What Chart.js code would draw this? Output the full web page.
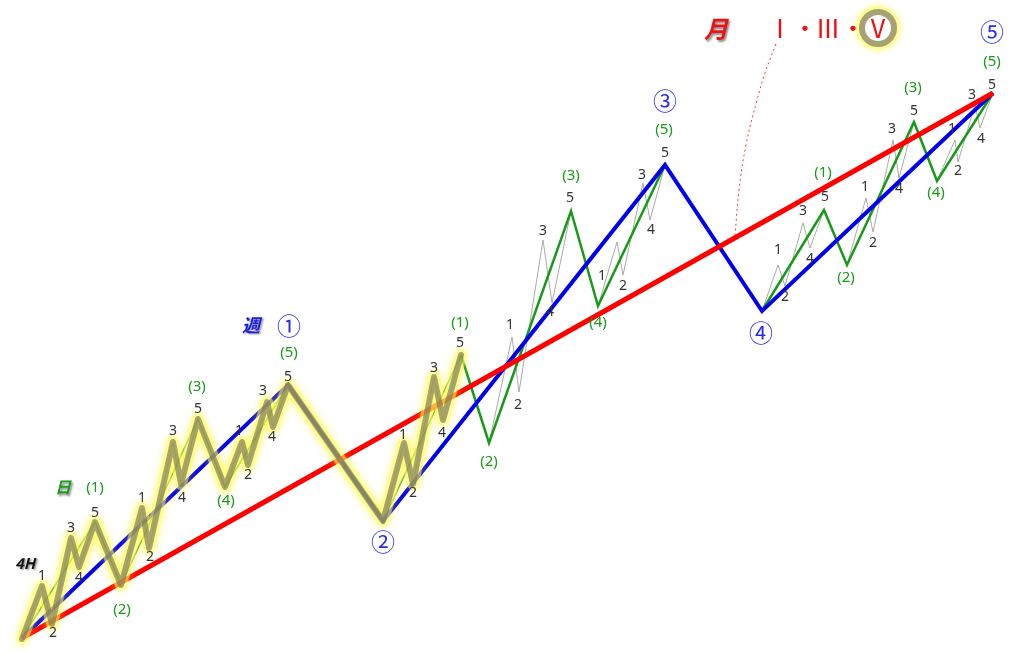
<!DOCTYPE html>
<html>
<head>
<meta charset="utf-8">
<script src="https://cdn.jsdelivr.net/npm/chart.js@4"></script>
<style>
  html, body { margin: 0; padding: 0; background: #fff; }
  #wave { display: block; }
</style>
</head>
<body>
<canvas id="wave" width="1024" height="652"></canvas>
<script>
// 波の頂点 [時間, 価格]  (価格軸は上下反転)
const monthWave = [[22, 638], [993, 93]];
const weekWave = [[22, 638], [288, 385], [383, 521], [665, 165], [762, 311], [993, 93]];
const dayWaveThin = [
  [22, 638], [95, 522], [121, 585], [198, 419], [225, 487], [288, 385], null,
  [383, 521], [461, 355]
];
const dayWaveThick = [
  [461, 355], [489, 443], [571, 211], [598, 306], [665, 165], null,
  [762, 311], [824, 210], [847, 265], [914, 122], [937, 181], [993, 93]
];
const h4Wave = [
  [22, 639], [42, 586], [52, 624], [71, 538], [79, 567], [95, 522],
  [121, 585], [142, 508], [149, 548], [173, 442], [181, 484], [198, 419],
  [225, 487], [242, 442], [248, 465], [267, 402], [273, 427], [288, 385],
  [383, 521], [404, 443], [413, 484], [434, 377], [443, 420], [461, 355],
  [489, 443], [512, 337], [519, 392], [543, 240], [552, 303], [571, 211],
  [598, 306], [617, 242], [623, 275], [643, 183], [650, 220], [665, 165],
  [762, 311], [778, 265], [785, 286], [803, 223], [810, 248], [824, 210],
  [847, 265], [866, 198], [873, 232], [893, 140], [899, 178], [914, 122],
  [937, 181], [955, 140], [958, 162], [975, 105], [980, 128], [993, 93]
];
const h4Highlight = h4Wave.slice(0, 24);
const monthLink = [[776, 44], [766, 70], [757, 100], [746, 145], [739, 190], [735, 236]];
const ringPoint = [[878, 28]];

// ラベル [文字, 時間, 価格]
const h4Labels = [
  ['1', 42, 576], ['2', 53, 633], ['3', 71, 528], ['4', 79, 578], ['5', 95, 513],
  ['1', 142, 498], ['2', 150, 557], ['3', 173, 431], ['4', 182, 498], ['5', 198, 409],
  ['1', 239, 431], ['2', 248, 475], ['3', 263, 391], ['4', 272, 437], ['5', 288, 377],
  ['1', 403, 435], ['2', 413, 493], ['3', 434, 368], ['4', 442, 433], ['5', 460, 343],
  ['1', 510, 325], ['2', 518, 405], ['3', 543, 231], ['4', 550, 312], ['5', 570, 198],
  ['1', 602, 276], ['2', 623, 286], ['3', 642, 175], ['4', 651, 230], ['5', 665, 153],
  ['1', 778, 250], ['2', 785, 297], ['3', 803, 211], ['4', 810, 259], ['5', 825, 197],
  ['1', 865, 187], ['2', 873, 243], ['3', 892, 129], ['4', 899, 189], ['5', 914, 111],
  ['1', 952, 129], ['2', 958, 171], ['3', 972, 95], ['4', 981, 139], ['5', 992, 85]
];
const dayLabels = [
  ['(1)', 95, 488], ['(2)', 122, 610], ['(3)', 197, 387], ['(4)', 226, 501], ['(5)', 289, 353],
  ['(1)', 460, 323], ['(2)', 489, 462], ['(3)', 571, 176], ['(4)', 598, 323], ['(5)', 664, 130],
  ['(1)', 823, 173], ['(2)', 846, 278], ['(3)', 913, 88], ['(4)', 936, 193], ['(5)', 992, 62]
];
const weekLabels = [
  ['①', 289, 326], ['②', 383, 542], ['③', 665, 101], ['④', 761, 333], ['⑤', 992, 32]
];
const monthLabels = [['Ⅰ', 780, 28], ['・', 805, 28], ['Ⅲ', 828, 28], ['・', 853, 28], ['Ⅴ', 878, 28]];
const degreeLabels = [
  ['4H', 25, 563, '#111', 15],
  ['日', 63, 487, '#1a9a1a', 16],
  ['週', 251, 325, '#1a1ae6', 18],
  ['月', 716, 29, '#ee1111', 24]
];

const pts = (arr) => arr.map((p) => (p ? { x: p[0], y: p[1] } : { x: null, y: null }));

function line(data, color, width, order, extra) {
  return Object.assign({
    data: pts(data),
    showLine: true,
    borderColor: color,
    borderWidth: width,
    pointRadius: 0,
    spanGaps: false,
    order,
  }, extra || {});
}

const glowPlugin = {
  id: 'glow',
  beforeDatasetDraw: (chart, args) => {
    const ds = chart.data.datasets[args.index];
    if (!ds.glow) return;
    chart.ctx.save();
    chart.ctx.shadowColor = ds.glow;
    chart.ctx.shadowBlur = 8;
  },
  afterDatasetDraw: (chart, args) => {
    const ds = chart.data.datasets[args.index];
    if (!ds.glow) return;
    chart.ctx.restore();
  },
};

const labelPlugin = {
  id: 'waveLabels',
  afterDatasetsDraw: (chart) => {
    const ctx = chart.ctx;
    const xs = chart.scales.x;
    const ys = chart.scales.y;
    const put = (list, font, color) => {
      ctx.font = font;
      ctx.fillStyle = color;
      list.forEach(([t, x, y]) => ctx.fillText(t, xs.getPixelForValue(x), ys.getPixelForValue(y)));
    };
    ctx.save();
    ctx.textAlign = 'center';
    ctx.textBaseline = 'middle';
    put(h4Labels, '14px "Noto Sans", sans-serif', '#333');
    put(dayLabels, '15px "Noto Sans", sans-serif', '#1a9a1a');
    put(weekLabels, '24px "Noto Sans CJK JP", sans-serif', '#2a2aee');
    put(monthLabels, '25px "Noto Sans CJK JP", sans-serif', '#ee1111');
    ctx.shadowColor = 'rgba(0,0,0,0.45)';
    ctx.shadowOffsetX = 1.5;
    ctx.shadowOffsetY = 1.5;
    ctx.shadowBlur = 2;
    degreeLabels.forEach(([t, x, y, c, s]) => {
      ctx.font = 'italic bold ' + s + 'px "Noto Sans CJK JP", sans-serif';
      ctx.fillStyle = c;
      ctx.fillText(t, xs.getPixelForValue(x), ys.getPixelForValue(y));
    });
    ctx.restore();
  },
};

new Chart(document.getElementById('wave'), {
  type: 'scatter',
  data: {
    datasets: [
      line(h4Highlight, 'rgba(110,106,88,0.6)', 6, 0, { borderJoinStyle: 'round', borderCapStyle: 'round' }),
      line(h4Highlight, 'rgba(255,255,100,0.5)', 12, 1, { borderJoinStyle: 'round', borderCapStyle: 'round', glow: 'rgba(255,240,0,0.9)' }),
      line(monthWave, '#ff0000', 5, 2),
      line(weekWave, '#0000ee', 4, 3),
      line(dayWaveThick, '#179a17', 2.5, 4),
      line(dayWaveThin, '#4cb01c', 1.5, 5),
      line(h4Wave, '#aaaaaa', 1, 6),
      line(monthLink, '#ff3333', 1, 7, { borderDash: [2, 3], tension: 0.4 }),
      {
        data: pts(ringPoint), pointRadius: 16, pointBorderWidth: 6,
        pointBorderColor: '#a6a273', pointBackgroundColor: '#ffffff', order: 8,
      },
      {
        data: pts(ringPoint), pointRadius: 22, pointBorderWidth: 0,
        pointBackgroundColor: 'rgba(255,255,120,0.6)', order: 9, glow: 'rgba(255,245,80,1)',
      },
    ],
  },
  options: {
    responsive: false,
    animation: false,
    layout: { padding: 0, autoPadding: false },
    scales: {
      x: { type: 'linear', min: 0, max: 1024, display: false },
      y: { type: 'linear', min: 0, max: 652, reverse: true, display: false },
    },
    plugins: { legend: { display: false }, tooltip: { enabled: false } },
    events: [],
  },
  plugins: [glowPlugin, labelPlugin],
});
</script>
</body>
</html>
